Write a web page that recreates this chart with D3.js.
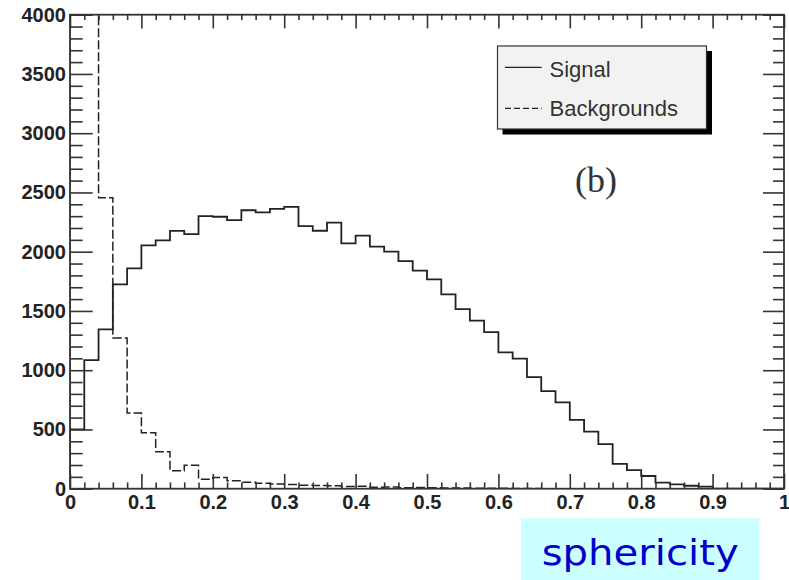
<!DOCTYPE html>
<html><head><meta charset="utf-8">
<script src="https://cdn.jsdelivr.net/npm/d3@7"></script>
<style>body{margin:0;background:#fff}svg{display:block}</style>
</head><body>
<svg id="c" width="789" height="580"></svg>
<script>
// ---- data ----
const binLow = [0,0.02,0.04,0.06,0.08,0.10,0.12,0.14,0.16,0.18,
  0.20,0.22,0.24,0.26,0.28,0.30,0.32,0.34,0.36,0.38,
  0.40,0.42,0.44,0.46,0.48,0.50,0.52,0.54,0.56,0.58,
  0.60,0.62,0.64,0.66,0.68,0.70,0.72,0.74,0.76,0.78,
  0.80,0.82,0.84,0.86,0.88,0.90,0.92,0.94,0.96,0.98];
const binHighEnd = 1.0;
const signal = [500,1085,1345,1725,1860,2054,2096,2175,2149,2300,
  2295,2267,2350,2332,2362,2378,2216,2177,2245,2071,
  2135,2042,2000,1921,1840,1767,1640,1516,1418,1322,
  1151,1097,942,824,729,580,481,377,210,156,
  107,51,37,25,17,0,0,0,0,0];
const backgrounds = [9000,12000,2455,1272,638,473,311,152,197,80,
  95,68,55,47,40,36,30,27,24,18,
  20,13,14,9,10,8,6,5,4,3,
  3,2,2,0,0,0,0,0,0,0,
  0,0,0,0,0,0,0,0,0,0];
const yMajorTicks = [0,500,1000,1500,2000,2500,3000,3500,4000];
const yMinorTicks = [100,200,300,400,600,700,800,900,1100,1200,1300,1400,1600,1700,1800,1900,
  2100,2200,2300,2400,2600,2700,2800,2900,3100,3200,3300,3400,3600,3700,3800,3900];
const xMajorTicks = [0,0.1,0.2,0.3,0.4,0.5,0.6,0.7,0.8,0.9,1];
const xTickLabels = ["0","0.1","0.2","0.3","0.4","0.5","0.6","0.7","0.8","0.9","1"];
const xMinorTicks = [0.02,0.04,0.06,0.08,0.12,0.14,0.16,0.18,0.22,0.24,0.26,0.28,0.32,0.34,0.36,0.38,
  0.42,0.44,0.46,0.48,0.52,0.54,0.56,0.58,0.62,0.64,0.66,0.68,0.72,0.74,0.76,0.78,
  0.82,0.84,0.86,0.88,0.92,0.94,0.96,0.98];
const seriesNames = ["Signal","Backgrounds"];
const panelLabel = "(b)";
const xTitle = "sphericity";

// ---- layout ----
const L = 70, R = 784, T = 14.7, B = 488.7;
const svg = d3.select("#c");
const x = d3.scaleLinear().domain([0,1]).range([L,R]);
const y = d3.scaleLinear().domain([0,4000]).range([B,T]);

svg.append("defs").append("clipPath").attr("id","clip")
  .append("rect").attr("x",L).attr("y",T).attr("width",R-L).attr("height",B-T);

function stepPts(vals){
  const p = [[binLow[0],0]];
  vals.forEach((v,i)=>p.push([binLow[i],v]));
  p.push([binHighEnd, vals[vals.length-1]]);
  p.push([binHighEnd, 0]);
  return p;
}
const line = d3.line().x(d=>x(d[0])).y(d=>y(d[1])).curve(d3.curveStepAfter);

const g = svg.append("g").attr("clip-path","url(#clip)");
g.append("path").attr("d", line(stepPts(backgrounds)))
  .attr("fill","none").attr("stroke","#222").attr("stroke-width",1.5)
  .attr("stroke-dasharray","9,3");
g.append("path").attr("d", line(stepPts(signal)))
  .attr("fill","none").attr("stroke","#222").attr("stroke-width",1.8);

// ---- axes ----
const axCol = "#333";
function styleAxis(sel, labels){
  sel.selectAll("line").attr("stroke",axCol).attr("stroke-width",1.6);
  sel.select(".domain").remove();
  sel.selectAll("text").attr("fill","#222").style("font-family","'Liberation Sans', Arial, sans-serif")
    .style("font-size","20px").style("font-weight","bold");
  if(!labels) sel.selectAll("text").remove();
}
styleAxis(svg.append("g").attr("transform",`translate(${L},0)`)
  .call(d3.axisLeft(y).tickValues(yMajorTicks).tickSize(-22.7).tickPadding(4).tickFormat(d3.format("d"))), true);
styleAxis(svg.append("g").attr("transform",`translate(${L},0)`)
  .call(d3.axisLeft(y).tickValues(yMinorTicks).tickSize(-12.7)), false);
styleAxis(svg.append("g").attr("transform",`translate(${R},0)`)
  .call(d3.axisRight(y).tickValues(yMajorTicks).tickSize(-21)), false);
styleAxis(svg.append("g").attr("transform",`translate(${R},0)`)
  .call(d3.axisRight(y).tickValues(yMinorTicks).tickSize(-11)), false);
styleAxis(svg.append("g").attr("transform",`translate(0,${B})`)
  .call(d3.axisBottom(x).tickValues(xMajorTicks).tickSize(-14.7).tickPadding(6)
    .tickFormat((d,i)=>xTickLabels[i])), true);
styleAxis(svg.append("g").attr("transform",`translate(0,${B})`)
  .call(d3.axisBottom(x).tickValues(xMinorTicks).tickSize(-6.3)), false);
styleAxis(svg.append("g").attr("transform",`translate(0,${T})`)
  .call(d3.axisTop(x).tickValues(xMajorTicks).tickSize(-13.7)), false);
styleAxis(svg.append("g").attr("transform",`translate(0,${T})`)
  .call(d3.axisTop(x).tickValues(xMinorTicks).tickSize(-5.3)), false);

svg.append("rect").attr("x",L).attr("y",T).attr("width",R-L).attr("height",B-T)
  .attr("fill","none").attr("stroke",axCol).attr("stroke-width",1.8);

// ---- legend ----
const lg = svg.append("g");
lg.append("rect").attr("x",502.5).attr("y",51).attr("width",209.5).attr("height",83.5).attr("fill","#000");
lg.append("rect").attr("x",497.5).attr("y",46).attr("width",209).attr("height",83)
  .attr("fill","#f2f2f2").attr("stroke","#333").attr("stroke-width",1.2);
const legRows = [{y:67.3, base:76.5, dash:null},{y:108.3, base:115.5, dash:"6,3"}];
seriesNames.forEach((n,i)=>{
  const r = legRows[i];
  lg.append("line").attr("x1",505).attr("x2",541.7).attr("y1",r.y).attr("y2",r.y)
    .attr("stroke","#222").attr("stroke-width",1.3).attr("stroke-dasharray",r.dash);
  lg.append("text").attr("x",549.5).attr("y",r.base).text(n)
    .attr("fill","#333").style("font-family","'Liberation Sans', Arial, sans-serif").style("font-size","22px");
});

svg.append("text").attr("x",575).attr("y",192).text(panelLabel)
  .attr("fill","#333").style("font-family","'Liberation Serif', 'Times New Roman', serif").style("font-size","36px");

// ---- x title ----
svg.append("rect").attr("x",521).attr("y",518.3).attr("width",238.3).attr("height",62).attr("fill","#ccffff");
svg.append("text").attr("x",541.7).attr("y",565).text(xTitle)
  .attr("textLength",197).attr("lengthAdjust","spacingAndGlyphs")
  .attr("fill","#0000cc").style("font-family","'DejaVu Sans', sans-serif").style("font-size","36px");
</script>
</body></html>
